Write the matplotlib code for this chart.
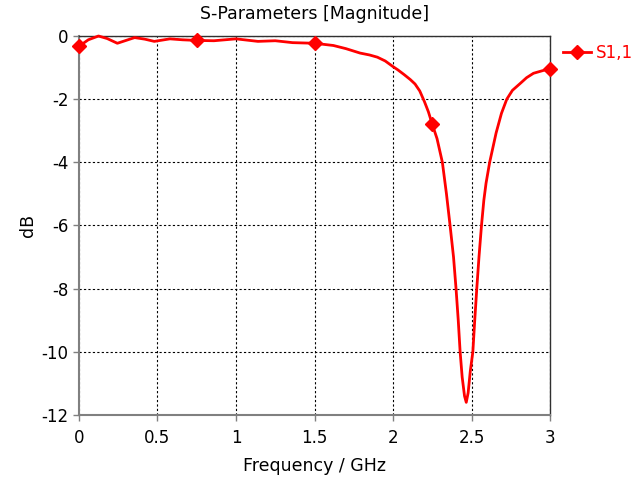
import matplotlib
matplotlib.use("Agg")
import matplotlib.pyplot as plt

plt.rcParams['axes.unicode_minus'] = False

# S1,1 magnitude
freq = [0.00, 0.06, 0.125, 0.18, 0.245, 0.30, 0.355, 0.42, 0.48, 0.53, 0.58, 0.66,
        0.75, 0.86, 1.00, 1.14, 1.25, 1.36, 1.50, 1.62, 1.70, 1.79, 1.85, 1.90, 1.95,
        2.00, 2.03, 2.07, 2.11, 2.14, 2.17, 2.20, 2.225, 2.25, 2.28, 2.314, 2.34,
        2.363, 2.385, 2.401, 2.415, 2.427, 2.44, 2.455, 2.466, 2.478, 2.492, 2.508,
        2.52, 2.533, 2.547, 2.563, 2.578, 2.592, 2.615, 2.656, 2.69, 2.724, 2.76,
        2.81, 2.85, 2.894, 2.95, 3.00]
s11 = [-0.33, -0.12, 0.0, -0.08, -0.23, -0.14, -0.05, -0.10, -0.17, -0.13, -0.09, -0.12,
       -0.14, -0.15, -0.09, -0.17, -0.15, -0.21, -0.23, -0.30, -0.40, -0.54, -0.60, -0.67,
       -0.79, -0.97, -1.07, -1.22, -1.38, -1.52, -1.74, -2.08, -2.40, -2.80, -3.25,
       -4.00, -5.00, -6.00, -7.00, -8.00, -9.00, -10.00, -10.80, -11.40, -11.60,
       -11.30, -10.60, -10.00, -9.00, -8.00, -7.00, -6.00, -5.20, -4.66, -4.00,
       -3.07, -2.45, -2.00, -1.72, -1.50, -1.32, -1.18, -1.10, -1.03]
marker_freqs = [0.0, 0.75, 1.5, 2.25, 3.0]

xticks = [0, 0.5, 1, 1.5, 2, 2.5, 3]
xticklabels = ['0', '0.5', '1', '1.5', '2', '2.5', '3']
yticks = [0, -2, -4, -6, -8, -10, -12]

fig = plt.figure(figsize=(6.36, 4.84), dpi=100)
ax = fig.add_axes([0.124, 0.1426, 0.741, 0.783])

marks = [freq.index(f) for f in marker_freqs]
ax.plot(freq, s11, color='#ff0000', linewidth=2, marker='D', markersize=7,
        markevery=marks, label='S1,1', clip_on=False, zorder=3,
        solid_joinstyle='round')

ax.set_xlim(0, 3)
ax.set_ylim(-12, 0)
ax.set_xticks(xticks)
ax.set_xticklabels(xticklabels)
ax.set_yticks(yticks)
ax.tick_params(labelsize=12, color='#808080', length=4, width=1)
ax.tick_params(axis='x', pad=6)
ax.grid(True, color='black', linestyle=(0, (2, 2)), linewidth=0.8)

for side in ['left', 'bottom']:
    ax.spines[side].set_color('#808080')
    ax.spines[side].set_linewidth(1.5)
for side in ['top', 'right']:
    ax.spines[side].set_color('#303030')
    ax.spines[side].set_linewidth(1)

ax.set_title('S-Parameters [Magnitude]', fontsize=12.5, pad=12)
ax.set_xlabel('Frequency / GHz', fontsize=12.5, labelpad=7)
ax.set_ylabel('dB', fontsize=12.5, labelpad=3)

leg = fig.legend(loc='center left', bbox_to_anchor=(563 / 636, 1 - 53 / 484),
                 frameon=False, fontsize=12, handlelength=1.7,
                 handletextpad=0.3, borderpad=0, borderaxespad=0)
for t in leg.get_texts():
    t.set_color('#ff0000')

fig.savefig('out.png', dpi=100)
